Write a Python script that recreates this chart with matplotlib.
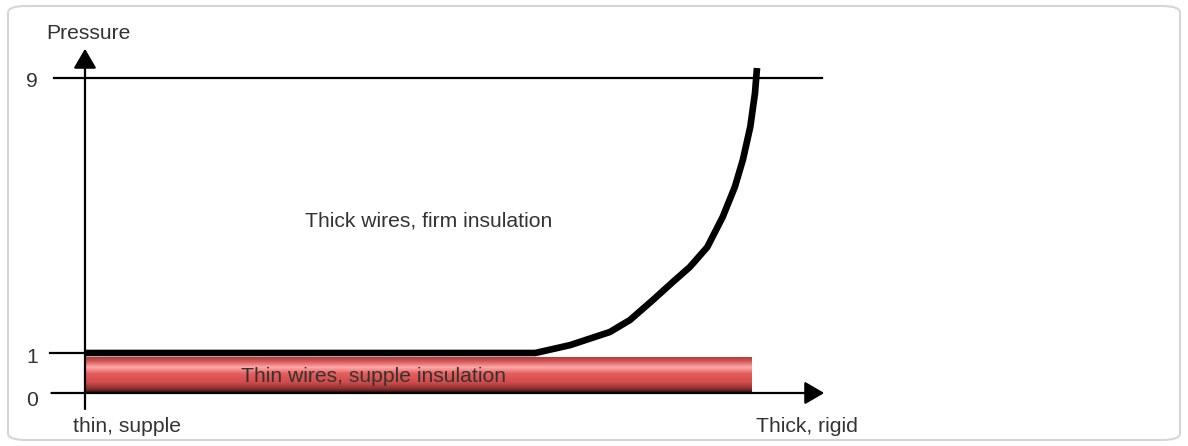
import numpy as np
import matplotlib
matplotlib.use("Agg")
import matplotlib.pyplot as plt
from matplotlib.colors import LinearSegmentedColormap
from matplotlib.patches import FancyBboxPatch, Rectangle

plt.rcParams["font.family"] = ["Liberation Sans", "DejaVu Sans"]

# pressure levels marked on the vertical axis
levels = [0, 1, 9]
level_labels = ["0", "1", "9"]

# boundary between the two insulation regimes (stiffness 0..1 -> pressure)
stiffness = [0.0, 0.670, 0.722, 0.781, 0.811, 0.845, 0.875, 0.900,
             0.926, 0.949, 0.967, 0.979, 0.990, 0.997, 1.0]
pressure = [1.0, 1.0, 1.23, 1.61, 1.96, 2.54, 3.07, 3.50,
            4.08, 4.96, 5.83, 6.62, 7.58, 8.56, 9.29]

# thin-wire band
band_x = (0.0, 0.994)
band_y = (0.0, 0.9)

x_labels = ["thin, supple", "Thick, rigid"]
y_label = "Pressure"
upper_label = "Thick wires, firm insulation"
lower_label = "Thin wires, supple insulation"

TEXT = "#333333"
FS = 15.2


def fwd(y):
    y = np.asarray(y, dtype=float)
    return np.where(y <= 1, y * 40.0, 40.0 + (y - 1) * 275.0 / 8.0)


def inv(v):
    v = np.asarray(v, dtype=float)
    return np.where(v <= 40, v / 40.0, 1 + (v - 40.0) * 8.0 / 275.0)


W, H = 1188, 446
fig = plt.figure(figsize=(W / 100, H / 100), dpi=100)

# rounded frame around the whole drawing
frame = FancyBboxPatch((8 / W, 6 / H), 1172 / W, 434 / H,
                       boxstyle="round,pad=0,rounding_size=0.015",
                       transform=fig.transFigure, facecolor="none",
                       edgecolor="#d6d6d6", linewidth=1.5, zorder=-1)
fig.patches.append(frame)

ax = fig.add_axes([85 / W, 53 / H, 672 / W, 315 / H])
ax.patch.set_alpha(0)
ax.set_yscale("function", functions=(fwd, inv))
ax.set_xlim(0, 1)
ax.set_ylim(0, 9)
ax.axis("off")

# gradient-filled band for the thin wires (row 0 = top edge)
cmap = LinearSegmentedColormap.from_list("wire", [
    (0.0, "#a83c3c"), (0.12, "#d25252"), (0.30, "#ffaaaa"),
    (0.47, "#e65e5e"), (0.72, "#d04c4c"), (0.9, "#8a2e2e"), (1.0, "#2e1010")])
grad = np.linspace(0, 1, 256).reshape(-1, 1)
img = ax.imshow(grad, cmap=cmap, aspect="auto", interpolation="bilinear",
                extent=[band_x[0], band_x[1], band_y[0], band_y[1]], origin="upper")
clip = Rectangle((band_x[0], band_y[0]), band_x[1] - band_x[0], band_y[1] - band_y[0],
                 transform=ax.transData, facecolor="none", edgecolor="none")
ax.add_patch(clip)
img.set_clip_path(clip)
ax.set_xlim(0, 1)
ax.set_ylim(0, 9)

# level lines
ax.plot([-0.046, 1.097], [levels[2]] * 2, color="black", lw=1.6, clip_on=False, zorder=3)
ax.plot([-0.052, 0.0], [levels[1]] * 2, color="black", lw=1.6, clip_on=False, zorder=3)

# axes with arrow heads
arrow = dict(arrowstyle="-|>,head_length=0.6,head_width=0.35", color="black",
             lw=1.6, mutation_scale=20, shrinkA=0, shrinkB=0)
ax.annotate("", xy=(0, 9.85), xytext=(0, -0.4), arrowprops=arrow,
            annotation_clip=False, zorder=4)
ax.annotate("", xy=(1.1, 0), xytext=(-0.05, 0), arrowprops=arrow,
            annotation_clip=False, zorder=4)

# regime boundary
ax.plot(stiffness, pressure, color="black", lw=4.8, clip_on=False,
        solid_capstyle="butt", solid_joinstyle="round", zorder=5)

# labels
offsets = {0: -0.2, 1: -0.12, 9: -0.1}
for lv, lab in zip(levels, level_labels):
    ax.text(-0.079, lv + offsets[lv], lab, ha="center", va="center", fontsize=FS,
            color=TEXT, clip_on=False)
ax.text(0.005, 10.3, y_label, ha="center", va="center", fontsize=FS, color=TEXT)
ax.text(0.0625, -0.85, x_labels[0], ha="center", va="center", fontsize=FS, color=TEXT)
ax.text(1.074, -0.85, x_labels[1], ha="center", va="center", fontsize=FS, color=TEXT)
ax.text(0.512, 4.85, upper_label, ha="center", va="center", fontsize=FS, color=TEXT)
ax.text(0.43, 0.42, lower_label, ha="center", va="center", fontsize=FS, color=TEXT,
        zorder=6)

fig.savefig("out.png", dpi=100)
